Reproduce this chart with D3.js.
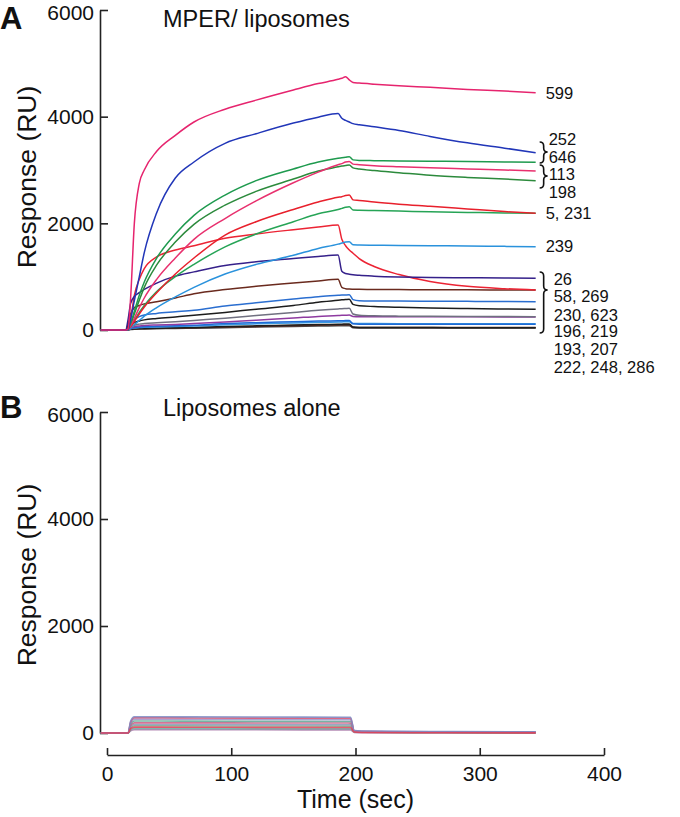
<!DOCTYPE html>
<html><head><meta charset="utf-8">
<script src="https://cdn.jsdelivr.net/npm/d3@7"></script>
<style>
body{margin:0;background:#fff;}
svg{display:block;font-family:"Liberation Sans",Arial,Helvetica,sans-serif;}
</style></head><body>
<svg id="chart" width="680" height="817"></svg>
<script>
// ---------- DATA ----------
const yTickValues = [0, 2000, 4000, 6000];
const xTickValues = [0, 100, 200, 300, 400];

// Panel A: MPER/liposomes (time in s, response in RU)
const timesA = [-5,15,17,19,22,26,30,40,55,70,95,120,150,170,186,189,192,195,198,203,215,235,260,290,320,345];
const s599 = [0,0,20,600,2000,2750,3000,3350,3650,3900,4140,4310,4500,4620,4700,4720,4750,4690,4640,4630,4610,4580,4550,4510,4480,4450];
const s252 = [0,0,20,200,550,1000,1450,2200,2850,3150,3500,3680,3880,3990,4060,3970,3930,3900,3870,3850,3810,3740,3630,3510,3410,3325];
const s646 = [0,0,20,120,350,650,900,1350,1800,2150,2530,2800,3020,3150,3220,3230,3240,3250,3190,3180,3175,3170,3165,3160,3150,3144];
const s113 = [0,0,20,80,220,420,600,950,1350,1700,2090,2420,2760,2960,3100,3120,3150,3160,3110,3100,3080,3060,3040,3020,3000,2981];
const s198 = [0,0,20,110,300,560,800,1220,1650,1980,2340,2600,2830,2980,3060,3075,3085,3095,3040,3020,2990,2950,2900,2860,2830,2800];
const s5   = [0,0,15,60,160,300,430,700,1050,1350,1780,2030,2260,2400,2490,2500,2520,2530,2440,2430,2400,2360,2320,2270,2220,2188];
const s231 = [0,0,15,70,180,330,460,720,1000,1230,1560,1800,2030,2180,2260,2280,2300,2310,2250,2245,2240,2230,2215,2205,2195,2188];
const s239 = [0,0,10,40,100,180,260,420,620,800,1050,1230,1400,1530,1610,1630,1650,1655,1600,1595,1590,1585,1580,1575,1568,1563];
const s26  = [0,0,200,500,630,700,760,880,1010,1090,1210,1280,1340,1380,1406,1100,1060,1045,1035,1025,1010,995,985,980,975,969];
const s58  = [0,0,30,200,650,950,1150,1370,1500,1580,1720,1800,1880,1930,1969,1700,1580,1500,1440,1340,1190,1040,910,820,775,750];
const s269 = [0,0,100,300,420,460,490,530,600,680,760,820,880,920,950,800,775,768,765,762,760,758,755,753,751,750];
const s230 = [0,0,30,120,200,250,280,310,340,370,450,510,580,625,650,655,658,660,570,550,545,542,540,537,534,531];
const s623 = [0,0,20,80,140,170,190,215,245,275,330,390,460,520,560,565,570,575,480,455,440,425,412,402,394,388];
const s196 = [0,0,15,50,90,110,120,135,155,180,220,270,330,370,395,400,403,406,300,275,265,260,258,255,252,250];
const s219 = [0,0,10,40,60,75,85,95,105,120,150,185,225,255,272,276,278,280,255,250,250,250,248,247,246,245];
const s193 = [0,0,10,30,45,55,60,68,78,90,120,138,155,167,173,175,176,177,115,110,110,110,110,108,106,106];
const s207 = [0,0,8,25,38,45,50,56,64,74,98,115,132,144,150,152,153,154,122,120,120,119,118,118,117,116];
const s222 = [0,0,5,15,22,26,30,35,40,48,65,78,92,102,108,110,111,112,55,48,46,45,45,44,44,44];
const s248 = [0,0,5,14,20,24,27,31,36,42,55,67,80,90,96,97,98,99,52,48,47,46,46,45,45,45];
const s286 = [0,0,4,10,15,18,21,24,28,33,44,54,65,73,78,79,80,81,42,39,38,37,37,36,36,36];

// labels at right of panel A
const labelTexts = ["599","252","646","113","198","5, 231","239","26","58, 269","230, 623","196, 219","193, 207","222, 248, 286"];

// Panel B: liposomes alone
const timesB = [-5,17,19,22,60,120,194,196,199,205,260,345];
const b1  = [0,0,220,305,302,298,295,294,45,35,28,22];
const b2  = [0,0,200,285,282,278,276,275,35,25,18,12];
const b3  = [0,0,190,260,258,254,250,249,40,30,24,20];
const b4  = [0,0,160,225,222,218,215,214,30,20,14,8];
const b5  = [0,0,140,190,190,188,186,185,35,25,18,14];
const b6  = [0,0,120,160,158,156,154,153,28,20,15,12];
const b7  = [0,0,100,135,133,131,129,128,22,15,10,6];
const b9  = [0,0,60,85,84,82,80,80,25,15,10,6];
const b10 = [0,0,40,62,61,60,58,58,10,4,0,-3];
const b8  = [0,0,80,110,108,106,104,103,18,10,5,2];

// ---------- STYLE / LAYOUT ----------
const seriesA = [
  [s286,"#4a4a4a"],[s248,"#5a2a20"],[s222,"#1e1e1e"],[s207,"#3a9ae2"],[s193,"#1f6ad6"],
  [s219,"#8e3aa0"],[s196,"#707080"],[s623,"#1c1c1c"],[s230,"#2a6ed0"],[s269,"#6a2a1e"],
  [s58,"#ec2434"],[s26,"#35208a"],[s239,"#2a92dc"],[s231,"#26a456"],[s5,"#e8202c"],
  [s198,"#2c8a3c"],[s113,"#e8306e"],[s646,"#1e9a4e"],[s252,"#2136b8"],[s599,"#e6246e"]
];
const seriesB = [
  [b10,"#a878a8"],[b9,"#6aa8a0"],[b7,"#7ab08a"],[b6,"#8898b8"],[b5,"#cc5c84"],
  [b4,"#5fa694"],[b3,"#9a92c8"],[b2,"#d9506e"],[b1,"#7d8cc4"],[b8,"#e04058"]
];
// label anchors in RU units (vertical placement of each text)
const labelAnchorRU = [4444,3581,3244,2925,2590,2194,1575,956,637,281,-28,-365,-700];
const labelDx = [10,13,13,13,13,10,10,18,18,18,18,18,18];
const braces = [[3525,3131,3337],[3094,2662,2887],[1087,-56,750]];

const svg = d3.select("#chart");
const x  = d3.scaleLinear().domain([0,400]).range([107,604]);
const yA = d3.scaleLinear().domain([0,6000]).range([330,10]);
const yB = d3.scaleLinear().domain([0,6000]).range([733,412]);

function yAxis(y, cy, letter, letterY, title, titleY) {
  const g = svg.append("g").attr("transform","translate(100,0)")
    .call(d3.axisLeft(y).tickValues(yTickValues).tickFormat(d3.format("d"))
      .tickSize(-8).tickSizeOuter(0).tickPadding(6));
  g.select(".domain").attr("stroke","#222").attr("stroke-width",1.6);
  g.selectAll(".tick line").attr("stroke","#222").attr("stroke-width",1.6);
  g.selectAll(".tick text").attr("font-size",21).attr("fill","#111")
    .attr("font-family","Liberation Sans, Arial, sans-serif")
    .attr("dy", d => d === 6000 ? "0.45em" : "0.32em");
  svg.append("text").attr("transform",`translate(36,${cy}) rotate(-90)`)
    .attr("text-anchor","middle").attr("font-size",26.5).attr("fill","#111").text("Response (RU)");
  svg.append("text").attr("x",0).attr("y",letterY).attr("font-size",31)
    .attr("font-weight","bold").attr("fill","#111").text(letter);
  svg.append("text").attr("x",163).attr("y",titleY).attr("font-size",23.5)
    .attr("fill","#111").text(title);
}

yAxis(yA, 177, "A", 29, "MPER/ liposomes", 27);
yAxis(yB, 575, "B", 418, "Liposomes alone", 416);

// lines
function drawLines(times, series, y, width, opacity) {
  const line = d3.line().x((d,i)=>x(times[i])).y(d=>y(d)).curve(d3.curveMonotoneX);
  svg.append("g").selectAll("path").data(series).join("path")
    .attr("d", d=>line(d[0])).attr("fill","none").attr("stroke",d=>d[1])
    .attr("stroke-width",width).attr("stroke-opacity",opacity).attr("stroke-linejoin","round");
}
drawLines(timesA, seriesA, yA, 1.5, 1);
drawLines(timesB, seriesB, yB, 1.6, 0.85);

// labels
const endX = x(timesA[timesA.length-1]);
svg.append("g").selectAll("text").data(labelTexts).join("text")
  .attr("x",(d,i)=>endX+labelDx[i]).attr("y",(d,i)=>yA(labelAnchorRU[i]))
  .attr("dy","0.35em").attr("font-size",16.5).attr("fill","#111").text(d=>d);

// braces
function bracePath(bx, y0, y1, ym, w) {
  const h = w/2, r = 4;
  return `M${bx},${y0} Q${bx+h},${y0} ${bx+h},${y0+r} L${bx+h},${ym-r} Q${bx+h},${ym} ${bx+w},${ym}` +
         ` Q${bx+h},${ym} ${bx+h},${ym+r} L${bx+h},${y1-r} Q${bx+h},${y1} ${bx},${y1}`;
}
svg.append("g").selectAll("path").data(braces).join("path")
  .attr("d",d=>bracePath(endX+4, yA(d[0]), yA(d[1]), yA(d[2]), 8))
  .attr("fill","none").attr("stroke","#111").attr("stroke-width",1.6);

// x axis (panel B)
const gx = svg.append("g").attr("transform","translate(0,755)")
  .call(d3.axisBottom(x).tickValues(xTickValues).tickSize(-7).tickSizeOuter(0).tickPadding(11));
gx.select(".domain").attr("stroke","#222").attr("stroke-width",1.6);
gx.selectAll(".tick line").attr("stroke","#222").attr("stroke-width",1.6);
gx.selectAll(".tick text").attr("font-size",21).attr("fill","#111")
  .attr("font-family","Liberation Sans, Arial, sans-serif");
svg.append("text").attr("x",(x(0)+x(400))/2).attr("y",808).attr("text-anchor","middle")
  .attr("font-size",25).attr("fill","#111").text("Time (sec)");
</script>
</body></html>
